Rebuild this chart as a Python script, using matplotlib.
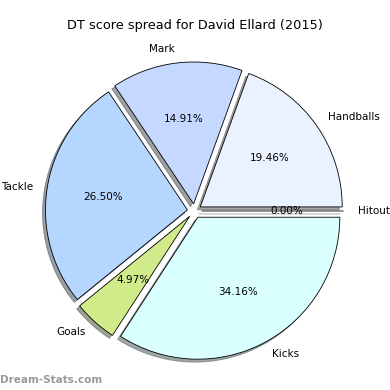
import matplotlib
matplotlib.use("Agg")
import matplotlib.pyplot as plt

labels = ["Hitout", "Handballs", "Mark", "Tackle", "Goals", "Kicks"]
shares = [0.0, 19.46, 14.91, 26.50, 4.97, 34.16]
colors = ["#eeeeee", "#eaf1ff", "#c5d8ff", "#b5d6ff", "#d1eb8b", "#d9ffff"]
explode = [0.05] * len(labels)

fig = plt.figure(figsize=(3.9, 3.9), dpi=100)
ax = fig.add_axes([0.0436, 0.004, 0.91, 0.91])

wedges, texts, autotexts = ax.pie(
    shares, labels=labels, colors=colors, explode=explode,
    autopct="%1.2f%%", shadow={"ox": -0.015, "oy": -0.015},
    startangle=0,
    wedgeprops={"edgecolor": "black", "linewidth": 0.6},
    textprops={"fontsize": 7.5},
)
ax.set_aspect("equal")

fig.text(0.5, 1 - 25 / 390, "DT score spread for David Ellard (2015)",
         ha="center", va="center", fontsize=9.3)
fig.text(0.0, 0.025, "Dream-Stats.com", ha="left", va="center",
         fontsize=7.5, color="#999999", fontweight="bold")

fig.savefig("out.png", dpi=100)
